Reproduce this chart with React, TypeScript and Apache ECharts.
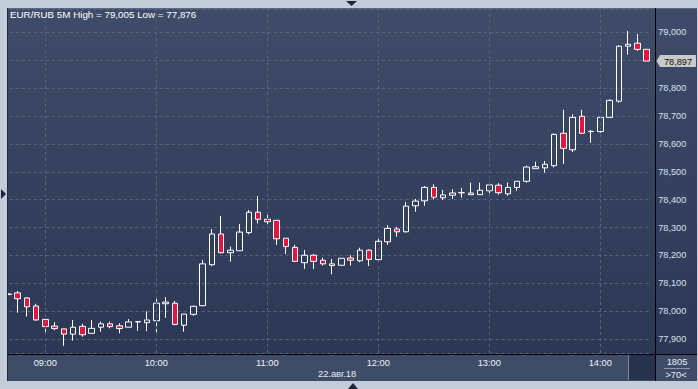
import React, { useEffect, useRef } from "react";
import * as echarts from "echarts";

const times = [
  "08:40", "08:45", "08:50", "08:55", "09:00", "09:05", "09:10", "09:15", "09:20", "09:25",
  "09:30", "09:35", "09:40", "09:45", "09:50", "09:55", "10:00", "10:05", "10:10", "10:15",
  "10:20", "10:25", "10:30", "10:35", "10:40", "10:45", "10:50", "10:55", "11:00", "11:05",
  "11:10", "11:15", "11:20", "11:25", "11:30", "11:35", "11:40", "11:45", "11:50", "11:55",
  "12:00", "12:05", "12:10", "12:15", "12:20", "12:25", "12:30", "12:35", "12:40", "12:45",
  "12:50", "12:55", "13:00", "13:05", "13:10", "13:15", "13:20", "13:25", "13:30", "13:35",
  "13:40", "13:45", "13:50", "13:55", "14:00", "14:05", "14:10", "14:15", "14:20", "14:25",
];

const openV = [
  78.060, 78.066, 78.048, 78.019, 77.971, 77.947, 77.937, 77.918, 77.946, 77.921,
  77.943, 77.955, 77.948, 77.943, 77.962, 77.959, 77.966, 78.027, 78.029, 77.950,
  77.989, 78.020, 78.167, 78.277, 78.210, 78.217, 78.282, 78.355, 78.330, 78.326,
  78.262, 78.229, 78.174, 78.201, 78.183, 78.164, 78.165, 78.191, 78.181, 78.219,
  78.185, 78.249, 78.295, 78.285, 78.378, 78.396, 78.444, 78.407, 78.416, 78.425,
  78.418, 78.418, 78.432, 78.452, 78.421, 78.444, 78.466, 78.511, 78.514, 78.522,
  78.638, 78.579, 78.699, 78.644, 78.644, 78.695, 78.753, 78.950, 78.961, 78.939,
];
const closeV = [
  78.062, 78.045, 78.016, 77.969, 77.945, 77.938, 77.918, 77.943, 77.916, 77.939,
  77.955, 77.945, 77.938, 77.962, 77.963, 77.969, 78.029, 78.033, 77.953, 77.990,
  78.018, 78.170, 78.277, 78.210, 78.219, 78.284, 78.355, 78.330, 78.321, 78.260,
  78.232, 78.179, 78.201, 78.179, 78.170, 78.170, 78.190, 78.183, 78.219, 78.186,
  78.251, 78.297, 78.285, 78.377, 78.395, 78.444, 78.409, 78.417, 78.424, 78.425,
  78.424, 78.434, 78.453, 78.425, 78.444, 78.466, 78.517, 78.518, 78.527, 78.634,
  78.584, 78.695, 78.638, 78.645, 78.695, 78.756, 78.950, 78.957, 78.939, 78.897,
];
const lowV = [
  78.058, 77.995, 77.981, 77.966, 77.921, 77.932, 77.876, 77.895, 77.909, 77.921,
  77.927, 77.939, 77.921, 77.943, 77.930, 77.929, 77.918, 77.977, 77.950, 77.927,
  77.984, 78.018, 78.162, 78.208, 78.178, 78.217, 78.276, 78.315, 78.307, 78.238,
  78.205, 78.179, 78.152, 78.152, 78.164, 78.133, 78.165, 78.164, 78.176, 78.162,
  78.174, 78.238, 78.267, 78.282, 78.357, 78.378, 78.401, 78.399, 78.403, 78.407,
  78.418, 78.418, 78.423, 78.418, 78.414, 78.432, 78.461, 78.511, 78.497, 78.516,
  78.528, 78.571, 78.636, 78.604, 78.640, 78.695, 78.748, 78.920, 78.933, 78.897,
];
const highV = [
  78.064, 78.073, 78.050, 78.027, 77.971, 77.961, 77.937, 77.969, 77.955, 77.969,
  77.963, 77.963, 77.957, 77.972, 77.963, 78.000, 78.050, 78.051, 78.037, 77.990,
  78.020, 78.184, 78.295, 78.342, 78.232, 78.313, 78.363, 78.413, 78.351, 78.326,
  78.262, 78.238, 78.220, 78.205, 78.192, 78.188, 78.190, 78.201, 78.228, 78.222,
  78.262, 78.309, 78.303, 78.392, 78.403, 78.449, 78.455, 78.435, 78.437, 78.442,
  78.461, 78.461, 78.461, 78.459, 78.462, 78.466, 78.522, 78.536, 78.539, 78.638,
  78.722, 78.706, 78.722, 78.650, 78.695, 78.760, 78.953, 79.005, 78.994, 78.939,
];

const title = "EUR/RUB 5M High = 79,005 Low = 77,876";
const dateLabel = "22.авг.18";
const lastPriceLabel = "78,897";
const lastPrice = 78.897;
const hiddenTick = 78.9; // covered by the last-price marker in the reference
const volumeLabel = "1805";
const countLabel = ">70<";

const FONT = "'Liberation Sans', Arial, sans-serif";

export default function App() {
  const ref = useRef<HTMLDivElement>(null);
  useEffect(() => {
    if (!ref.current) return;
    const chart = echarts.init(ref.current, null, { renderer: "svg" });
    const hourTimes = times.filter((t) => t.endsWith(":00"));
    const ohlc = openV.map((o, i) => [o, closeV[i], lowV[i], highV[i]]);
    const baseGraphic: any[] = [
      {
        type: "rect",
        z: -10,
        shape: { x: 8, y: 8, width: 689, height: 346 },
        style: {
          fill: new echarts.graphic.LinearGradient(0, 0, 0, 1, [
            { offset: 0, color: "#3f4c69" },
            { offset: 1, color: "#2b3754" },
          ]),
        },
      },
      { type: "rect", z: -10, shape: { x: 8, y: 354, width: 689, height: 27 }, style: { fill: "#3e4c68" } },
      { type: "rect", z: -10, shape: { x: 629, y: 355, width: 26, height: 25 }, style: { fill: "#27324d" } },
      { type: "rect", z: 100, shape: { x: 0, y: 0, width: 7, height: 389 }, style: { fill: "#c3ccd8" } },
      { type: "rect", z: 100, shape: { x: 0, y: 0, width: 698, height: 8 }, style: { fill: "#c3ccd8" } },
      { type: "rect", z: 100, shape: { x: 697, y: 0, width: 1, height: 389 }, style: { fill: "#c3ccd8" } },
      { type: "line", z: 100, shape: { x1: 7.5, y1: 8, x2: 7.5, y2: 381 }, style: { stroke: "#1f2a40", lineWidth: 1 } },
      { type: "line", z: 100, shape: { x1: 8, y1: 8.5, x2: 697, y2: 8.5 }, style: { stroke: "#5b6780", lineWidth: 1 } },
      { type: "line", z: 100, shape: { x1: 655.5, y1: 8, x2: 655.5, y2: 381 }, style: { stroke: "#000000", lineWidth: 1 } },
      { type: "line", z: 100, shape: { x1: 8, y1: 354.5, x2: 697, y2: 354.5 }, style: { stroke: "#000000", lineWidth: 1 } },
      { type: "line", z: 100, shape: { x1: 628.5, y1: 355, x2: 628.5, y2: 380 }, style: { stroke: "#7a859c", lineWidth: 1 } },
      { type: "line", z: 100, shape: { x1: 664, y1: 368.5, x2: 690, y2: 368.5 }, style: { stroke: "#8d98ad", lineWidth: 1 } },
      {
        type: "text", z: 100, x: 10, y: 14,
        style: { text: title, fill: "#ffffff", fontSize: 9.8, fontFamily: FONT, verticalAlign: "middle", align: "left" },
      },
      {
        type: "text", z: 100, x: 318, y: 374,
        style: { text: dateLabel, fill: "#e8edf6", fontSize: 9.3, fontFamily: FONT, verticalAlign: "middle", align: "left" },
      },
      {
        type: "text", z: 100, x: 677, y: 362,
        style: { text: volumeLabel, fill: "#e8edf6", fontSize: 9.3, fontFamily: FONT, verticalAlign: "middle", align: "center" },
      },
      {
        type: "text", z: 100, x: 676, y: 374.5,
        style: { text: countLabel, fill: "#e8edf6", fontSize: 9.3, fontFamily: FONT, verticalAlign: "middle", align: "center" },
      },
      { type: "polygon", z: 100, shape: { points: [[346, 1], [357, 1], [351.5, 6]] }, style: { fill: "#1d2638" } },
      { type: "polygon", z: 100, shape: { points: [[348, 389], [358, 389], [353, 383]] }, style: { fill: "#1d2638" } },
      { type: "polygon", z: 100, shape: { points: [[1, 189], [1, 199], [6, 194]] }, style: { fill: "#1d2638" } },
    ];
    const option: any = {
      animation: false,
      backgroundColor: "#c3ccd8",
      textStyle: { fontFamily: FONT },
      grid: { left: 3.7, right: 46.8, top: 9, bottom: 36 },
      xAxis: {
        type: "category",
        data: times,
        boundaryGap: true,
        axisLine: { show: false },
        axisTick: { show: false },
        splitLine: { show: false },
        axisLabel: {
          interval: (_i: number, v: string) => v.endsWith(":00"),
          color: "#eef2f8",
          fontSize: 9.3,
          fontFamily: FONT,
          margin: 5,
        },
      },
      yAxis: {
        type: "value",
        position: "right",
        min: 77.8505,
        max: 79.0835,
        splitNumber: 12,
        axisLine: { show: false },
        axisTick: { show: false },
        axisLabel: {
          color: "#d8e0ee",
          fontSize: 9.2,
          fontFamily: FONT,
          margin: 7,
          showMinLabel: false,
          showMaxLabel: false,
          formatter: (v: number) =>
            Math.abs(v - hiddenTick) < 1e-6 ? "" : v.toFixed(3).replace(".", ","),
        },
        splitLine: { lineStyle: { color: "#56657f", type: [3, 3], width: 1 } },
      },
      series: [
        {
          type: "candlestick",
          data: ohlc,
          barWidth: 6,
          clip: false,
          itemStyle: {
            color: "rgba(0,0,0,0)",
            color0: "#e3163f",
            borderColor: "#ffffff",
            borderColor0: "#ffffff",
            borderWidth: 1,
          },
          markLine: {
            silent: true,
            symbol: ["none", "none"],
            animation: false,
            label: { show: false },
            lineStyle: { color: "#56657f", type: [3, 3], width: 1 },
            data: hourTimes.map((t) => ({ xAxis: t })),
          },
        },
      ],
      graphic: baseGraphic,
    };
    chart.setOption(option);
    // last-price marker on the price axis, positioned through the y scale
    const py = chart.convertToPixel({ yAxisIndex: 0 }, lastPrice) as number;
    chart.setOption({
      graphic: [
        ...baseGraphic,
        {
          type: "polygon", z: 110,
          shape: { points: [[656.5, py], [660, py - 6], [696, py - 6], [696, py + 6], [660, py + 6]] },
          style: { fill: "#c9c9c9" },
        },
        {
          type: "text", z: 111, x: 678, y: py + 0.5,
          style: { text: lastPriceLabel, fill: "#111111", fontSize: 9.2, fontFamily: FONT, verticalAlign: "middle", align: "center" },
        },
      ],
    });
    return () => chart.dispose();
  }, []);
  return (
    <div
      ref={ref}
      style={{ position: "absolute", left: 0, top: 0, width: 698, height: 389 }}
    />
  );
}
